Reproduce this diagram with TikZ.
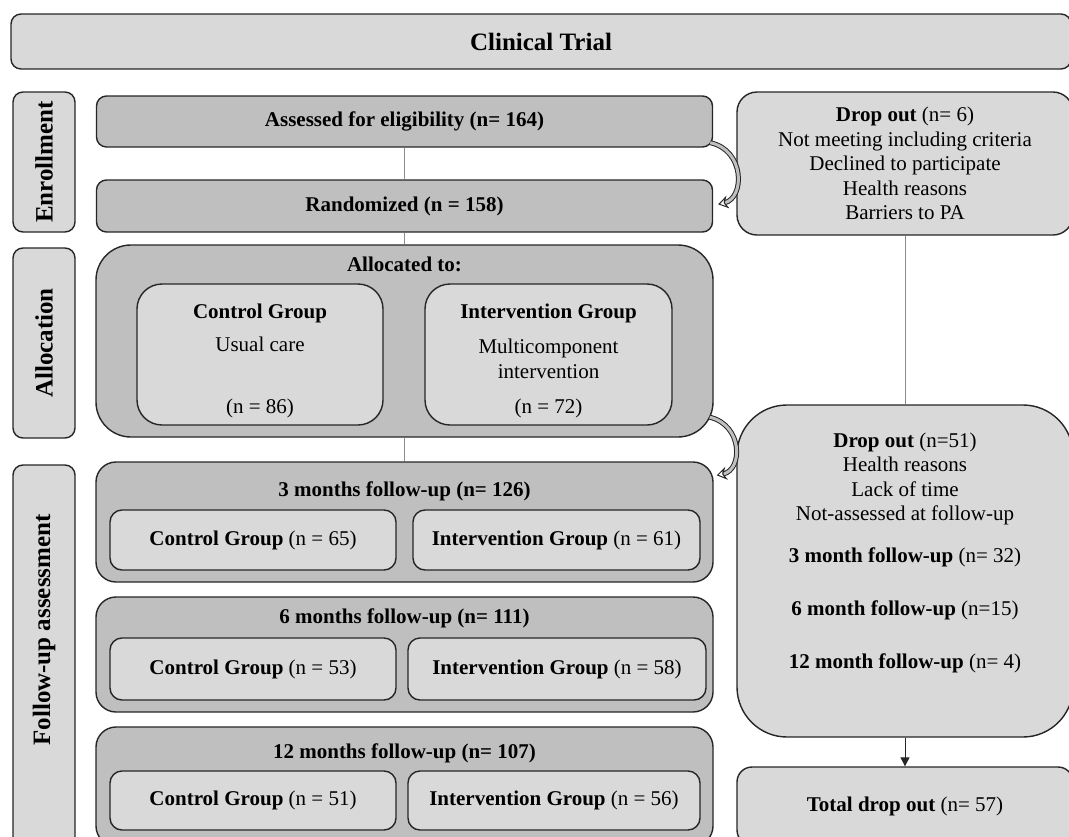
\documentclass[tikz,border=0pt]{standalone}
\usepackage{fontspec}
\setmainfont{Liberation Serif}
\usetikzlibrary{arrows.meta, positioning, calc}
\definecolor{boxdark}{HTML}{BFBFBF}
\definecolor{boxlight}{HTML}{D9D9D9}
\definecolor{linkgray}{HTML}{8C8C8C}

\begin{document}
\begin{tikzpicture}[x=1pt, y=-1pt,
    every node/.style={font=\fontsize{21}{24.5}\selectfont, align=center},
    heading/.style={font=\fontsize{21}{24.5}\selectfont\bfseries},
    outer/.style={draw=black!85, line width=1.4pt, fill=boxdark, inner sep=0pt},
    inner/.style={draw=black!85, line width=1.4pt, fill=boxlight, inner sep=0pt},
    sidebox/.style={inner, rounded corners=10pt, minimum width=62pt},
    sidetext/.style={rotate=90, font=\fontsize{25}{28}\selectfont\bfseries},
    link/.style={linkgray, line width=1pt},
    dropcurve/.style={draw=black!85, line width=1pt, double=boxdark, double distance=3pt,
        -{Stealth[open, length=10pt, width=13pt]}}
]
\useasboundingbox (0,0) rectangle (1069,836);
\clip (0,0) rectangle (1069,836);

% title
\node[inner, heading, font=\fontsize{25}{28}\selectfont\bfseries, rounded corners=10pt, minimum width=1060pt, minimum height=55pt] (trial) at (541,41.5) {Clinical Trial};

% phases on the left
\node[sidebox, minimum height=140pt] (enrolbox) at (44,162) {};
\node[sidetext] (enroltext) at (enrolbox) {Enrollment};
\node[sidebox, minimum height=190pt] (allocbox) at (44,343) {};
\node[sidetext] (alloctext) at (allocbox) {Allocation};
\node[sidebox, minimum height=390pt] (followbox) at (44,660) {};
\node[sidetext] (followtext) at (44,630) {Follow-up assessment};

% enrollment and allocation
\node[outer, heading, rounded corners=10pt, minimum width=616pt, minimum height=51pt] (assessed) at (404.5,121.5) {Assessed for eligibility (n= 164)};
\node[outer, heading, rounded corners=10pt, minimum width=616pt, minimum height=52pt] (random) at (404.5,206) {Randomized (n = 158)};
\node[outer, rounded corners=35pt, minimum width=617pt, minimum height=192pt] (allocated) at (404.5,341) {};
\node[heading] (allocatedto) at (404.5,264) {Allocated to:};

\node[inner, rounded corners=25pt, minimum width=246pt, minimum height=141pt] (ctrlalloc) at (260,354.5) {};
\node[heading] (ctrlname) at (260,313) {Control Group};
\node (ctrlcare) at (260,344) {Usual care};
\node (ctrln) at (260,408) {(n = 86)};
\node[inner, rounded corners=25pt, minimum width=247pt, minimum height=141pt] (intalloc) at (548.5,354.5) {};
\node[heading] (intname) at (548.5,313) {Intervention Group};
\node (intcare) at (548.5,359) {Multicomponent\\intervention};
\node (intn) at (548.5,408) {(n = 72)};

% follow-up
\node[outer, rounded corners=20pt, minimum width=617pt, minimum height=120pt] (fu3) at (404.5,522) {};
\node[heading] (fu3title) at (404.5,491) {3 months follow-up (n= 126)};
\node[inner, rounded corners=12pt, minimum width=286pt, minimum height=60pt] (ctrl3) at (253,540) {\textbf{Control Group} (n = 65)};
\node[inner, rounded corners=12pt, minimum width=287pt, minimum height=60pt] (int3) at (556.5,540) {\textbf{Intervention Group} (n = 61)};

\node[outer, rounded corners=20pt, minimum width=617pt, minimum height=115pt] (fu6) at (404.5,654.5) {};
\node[heading] (fu6title) at (404.5,618) {6 months follow-up (n= 111)};
\node[inner, rounded corners=12pt, minimum width=286pt, minimum height=62pt] (ctrl6) at (253,669) {\textbf{Control Group} (n = 53)};
\node[inner, rounded corners=12pt, minimum width=298pt, minimum height=62pt] (int6) at (557,669) {\textbf{Intervention Group} (n = 58)};

\node[outer, rounded corners=20pt, minimum width=617pt, minimum height=119pt] (fu12) at (404.5,786.5) {};
\node[heading] (fu12title) at (404.5,753) {12 months follow-up (n= 107)};
\node[inner, rounded corners=12pt, minimum width=286pt, minimum height=59pt] (ctrl12) at (253,800.5) {\textbf{Control Group} (n = 51)};
\node[inner, rounded corners=12pt, minimum width=292pt, minimum height=59pt] (int12) at (554,800.5) {\textbf{Intervention Group} (n = 56)};

% drop outs
\node[inner, rounded corners=20pt, minimum width=336pt, minimum height=143pt] (drop1) at (905,163.5) {\textbf{Drop out} (n= 6)\\Not meeting including criteria\\Declined to participate\\Health reasons\\Barriers to PA};
\node[inner, rounded corners=50pt, minimum width=336pt, minimum height=332pt] (drop2) at (905,571) {};
\node (dropwhy) at (905,479) {\textbf{Drop out} (n=51)\\Health reasons\\Lack of time\\Not-assessed at follow-up};
\node (drop3m) at (905,557) {\textbf{3 month follow-up} (n= 32)};
\node (drop6m) at (905,610) {\textbf{6 month follow-up} (n=15)};
\node (drop12m) at (905,663) {\textbf{12 month follow-up} (n= 4)};
\node[inner, rounded corners=15pt, minimum width=336pt, minimum height=78pt] (total) at (905,806) {\textbf{Total drop out} (n= 57)};

% connectors
\draw[link] (assessed) -- (random);
\draw[link] (random) -- (allocated);
\draw[link] (allocated) -- (fu3);
\draw[link] (drop1) -- (drop2);
\draw[black!85, line width=1pt, -{Triangle[length=9pt, width=9pt]}] (drop2) -- (total);

\draw[dropcurve] ($(assessed.south east)+(-3,-5)$) .. controls (745,150) and (745,198) .. ($(random.north east)+(5,25)$);
\draw[dropcurve] ($(allocated.south east)+(-4,-20.5)$) .. controls (743,425) and (743,470) .. ($(fu3.north east)+(3,14)$);
\end{tikzpicture}
\end{document}
